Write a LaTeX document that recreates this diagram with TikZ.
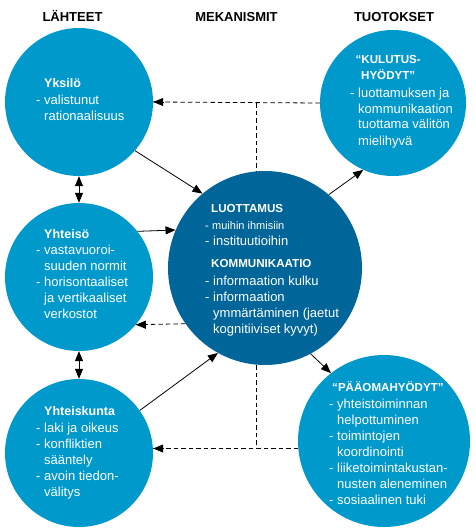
\documentclass[tikz,border=0pt]{standalone}
\usepackage{fontspec}
\setmainfont{Liberation Sans}
\usetikzlibrary{arrows.meta,shapes.geometric}
\definecolor{lightb}{HTML}{0099CC}
\definecolor{darkb}{HTML}{006699}
\newcommand\hd[2][0pt]{\noindent\hspace*{#1}{\fontsize{12.5}{16}\selectfont\bfseries #2}\par}
\newcommand\hdc[2][0pt]{\noindent\hspace*{#1}{\fontsize{11.6}{16}\selectfont\bfseries #2}\par}
\newcommand\itm[1]{\noindent\hangindent=8pt\hangafter=1\makebox[8pt][l]{-}#1\par}
\newcommand\blk[1]{\parbox[t]{170pt}{\hyphenpenalty=10000\fontsize{13}{16}\selectfont #1}}
\begin{document}
\begin{tikzpicture}[x=1pt,y=-1pt,
  lc/.style={circle,fill=lightb,draw=none,inner sep=0pt,minimum size=148pt},
  dc/.style={circle,fill=darkb,draw=none,inner sep=0pt,minimum size=194pt},
  txt/.style={inner sep=0pt,anchor=base west,text=white},
  hdr/.style={inner sep=0pt,anchor=base,font=\fontsize{13}{16}\selectfont\bfseries},
  tip/.tip={Triangle[length=10pt,width=8pt]},
  conn/.style={draw,line width=0.8pt,-tip},
  dsh/.style={draw,line width=0.8pt,dash pattern=on 4.5pt off 3pt},
  dbl/.style={draw,line width=0.8pt,tip-tip}]
\useasboundingbox (0,0) rectangle (475,530);
\fill[white] (0,0) rectangle (475,530);

% headers
\node[hdr] (h1) at (72.5,21) {LÄHTEET};
\node[hdr] (h2) at (236.5,21) {MEKANISMIT};
\node[hdr] (h3) at (394,21) {TUOTOKSET};

% circles
\node[lc] (yksilo) at (79,102) {};
\node[lc] (yhteiso) at (79,277) {};
\node[lc] (yhteiskunta) at (79,453) {};
\node[lc,minimum size=146pt] (kulutus) at (393,103) {};
\node[dc] (keskus) at (265,268) {};
\node[lc,minimum size=172pt] (paaoma) at (384,441) {};

% texts
\node[txt] (t1) at (36,87) {\blk{\hd[8pt]{Yksilö}\vspace{1pt}\itm{valistunut\\rationaalisuus}}};
\node[txt] (t2) at (350,63) {\blk{\hdc{\makebox[76pt]{“KULUTUS-}}\hdc{\makebox[76pt]{HYÖDYT”}}\vspace{2pt}\itm{luottamuksen ja\\kommunikaation\\tuottama välitön\\mielihyvä}}};
\node[txt] (t3) at (36,238) {\blk{\hd[8pt]{Yhteisö}\itm{vastavuoroi-\\suuden normit}\itm{horisontaaliset\\ja vertikaaliset\\verkostot}}};
\node[txt] (t4) at (205,212) {\blk{\hdc[6pt]{LUOTTAMUS}\vspace{1pt}{\fontsize{11}{16}\selectfont\noindent\makebox[7pt][l]{-}muihin ihmisiin\par}\itm{instituutioihin}\vspace{6pt}\hdc[6pt]{KOMMUNIKAATIO}\vspace{2pt}\itm{informaation kulku}\itm{informaation\\ymmärtäminen (jaetut\\kognitiiviset kyvyt)}}};
\node[txt] (t5) at (36,415.5) {\blk{\hd[8pt]{Yhteiskunta}\vspace{1pt}\itm{laki ja oikeus}\itm{konfliktien\\sääntely}\itm{avoin tiedon-\\välitys}}};
\node[txt] (t6) at (329,391) {\blk{\hdc[3pt]{“PÄÄOMAHYÖDYT”}\vspace{1pt}\itm{yhteistoiminnan\\helpottuminen}\itm{toimintojen\\koordinointi}\itm{liiketoimintakustan-\\nusten aleneminen}\itm{sosiaalinen tuki}}};

% solid connectors
\draw[dbl] (yksilo.south) -- (yhteiso.north);
\draw[dbl] (yhteiso.south) -- (yhteiskunta.north);
\draw[conn] (yksilo.-41) -- (keskus.130);
\draw[conn] (yhteiso.38) -- (keskus.157);
\draw[conn] (yhteiskunta.35) -- (keskus.-119);
\draw[conn] (keskus.49) -- (kulutus.-114);
\draw[conn] (keskus.-62) -- (paaoma.128);

% dashed feedback
\coordinate (jt) at (256,103);
\coordinate (jb) at (256,449);
\coordinate (bl) at (paaoma.185 -| yhteiskunta.east);
\draw[dsh] (kulutus.west) -- (yksilo.east);
\draw[conn] ([xshift=11pt]yksilo.east) -- (yksilo.east);
\draw[dsh] (jt) -- (jt |- keskus.north);
\draw[dsh] (keskus.-145) -- (yhteiso.-40);
\draw[conn] ([xshift=11pt]yhteiso.-40) -- (yhteiso.-40);
\draw[dsh] (jb |- keskus.south) -- (jb);
\draw[dsh] (paaoma.185) -- (bl);
\draw[conn] ([xshift=11pt]bl) -- (bl);
\end{tikzpicture}
\end{document}
